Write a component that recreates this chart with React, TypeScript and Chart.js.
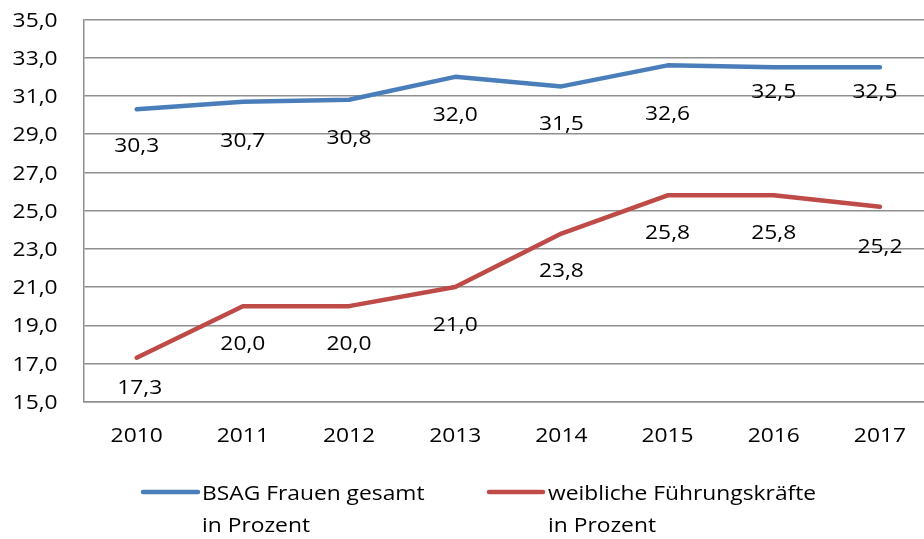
import React, { useEffect, useRef } from "react";
import { Chart, registerables } from "chart.js";

Chart.register(...registerables);

const years = ["2010", "2011", "2012", "2013", "2014", "2015", "2016", "2017"];
const bsagTotal = [30.3, 30.7, 30.8, 32.0, 31.5, 32.6, 32.5, 32.5];
const femaleLeaders = [17.3, 20.0, 20.0, 21.0, 23.8, 25.8, 25.8, 25.2];
const seriesNames = [
  ["BSAG Frauen gesamt", "in Prozent"],
  ["weibliche Führungskräfte", "in Prozent"],
];
const yMin = 15;
const yMax = 35;
const yStep = 2;

// layout / style (not data)
const BLUE = "#4A7EBB";
const RED = "#BE4B48";
const GRID = "#8F8F8F";
const FONT = "'Open Sans', sans-serif";
const FONT_SIZE = 20;
const SX = 1.14; // horizontal stretch of the reference's text
const CAP = FONT_SIZE * 0.714;
const LABEL_GAP = 36.7;
const labelNudges = [
  [[0, -1], [0, 1], [0, 0], [0, 0], [0, 0], [0, 11], [0, -12.7], [-5, -12.7]],
  [[3, -7.7], [0, 0], [0, 0], [0, 0], [0, 0], [0, 0], [0, 0], [0, 2]],
];

const fmt = (v: number) => v.toFixed(1).replace(".", ",");

// draws text with its vertical centre of the digits/caps at cy
function drawText(ctx: CanvasRenderingContext2D, text: string, x: number, cy: number, align: CanvasTextAlign) {
  ctx.save();
  ctx.translate(x, cy + CAP / 2);
  ctx.scale(SX, 1);
  ctx.font = `${FONT_SIZE}px ${FONT}`;
  ctx.fillStyle = "#000";
  ctx.textAlign = align;
  ctx.textBaseline = "alphabetic";
  ctx.fillText(text, 0, 0);
  ctx.restore();
}

const tickLabelPlugin = {
  id: "tickLabels",
  afterDraw(chart: any) {
    const ctx = chart.ctx;
    const ys = chart.scales.y;
    const xs = chart.scales.x;
    ys.ticks.forEach((t: any, i: number) => {
      drawText(ctx, fmt(t.value), chart.chartArea.left - 26, ys.getPixelForTick(i), "right");
    });
    xs.ticks.forEach((t: any, i: number) => {
      drawText(ctx, years[i], xs.getPixelForTick(i), chart.chartArea.bottom + 33.5, "center");
    });
  },
};

const dataLabelPlugin = {
  id: "dataLabels",
  afterDatasetsDraw(chart: any) {
    const ctx = chart.ctx;
    chart.data.datasets.forEach((ds: any, di: number) => {
      const meta = chart.getDatasetMeta(di);
      meta.data.forEach((pt: any, i: number) => {
        const [nx, ny] = labelNudges[di][i];
        drawText(ctx, fmt(ds.data[i]), pt.x + nx, pt.y + LABEL_GAP + ny, "center");
      });
    });
  },
};

const legendPlugin = {
  id: "customLegend",
  afterDraw(chart: any) {
    const ctx = chart.ctx;
    const items = [
      { x0: 143, x1: 198, tx: 202, color: BLUE },
      { x0: 489, x1: 543, tx: 548, color: RED },
    ];
    items.forEach((it, i) => {
      ctx.save();
      ctx.strokeStyle = it.color;
      ctx.lineWidth = 4.5;
      ctx.lineCap = "round";
      ctx.beginPath();
      ctx.moveTo(it.x0, 492);
      ctx.lineTo(it.x1, 492);
      ctx.stroke();
      ctx.restore();
      seriesNames[i].forEach((line, li) => {
        drawText(ctx, line, it.tx, 493 + li * 32, "left");
      });
    });
  },
};

export default function App() {
  const ref = useRef<HTMLCanvasElement>(null);
  useEffect(() => {
    const mk = (label: string, data: number[], color: string) => ({
      label,
      data,
      borderColor: color,
      backgroundColor: color,
      borderWidth: 4.5,
      pointRadius: 0,
      borderCapStyle: "round" as const,
      borderJoinStyle: "round" as const,
      tension: 0,
    });
    const chart = new Chart(ref.current!, {
      type: "line",
      data: {
        labels: years,
        datasets: [
          mk(seriesNames[0].join(" "), bsagTotal, BLUE),
          mk(seriesNames[1].join(" "), femaleLeaders, RED),
        ],
      },
      options: {
        animation: false,
        responsive: false,
        maintainAspectRatio: false,
        layout: { padding: { left: 0, top: 19.5, right: 7, bottom: 137.3 } },
        plugins: {
          legend: { display: false },
          tooltip: { enabled: false },
        },
        scales: {
          x: {
            offset: true,
            grid: { display: false, drawTicks: false },
            border: { display: true, color: GRID, width: 1.5 },
            ticks: { display: false },
          },
          y: {
            min: yMin,
            max: yMax,
            grid: { color: GRID, lineWidth: 1.5, drawTicks: false },
            border: { display: true, color: GRID, width: 1.5 },
            ticks: { display: false, stepSize: yStep },
            afterFit: (s: any) => {
              s.width = 83.6;
            },
          },
        },
      },
      plugins: [dataLabelPlugin, tickLabelPlugin, legendPlugin],
    });
    return () => chart.destroy();
  }, []);
  return (
    <div
      style={{
        position: "fixed",
        left: 0,
        top: 0,
        width: 924,
        height: 539,
        overflow: "hidden",
        background: "#fff",
      }}
    >
      <canvas ref={ref} width={940} height={539} style={{ display: "block", width: 940, height: 539 }} />
    </div>
  );
}
